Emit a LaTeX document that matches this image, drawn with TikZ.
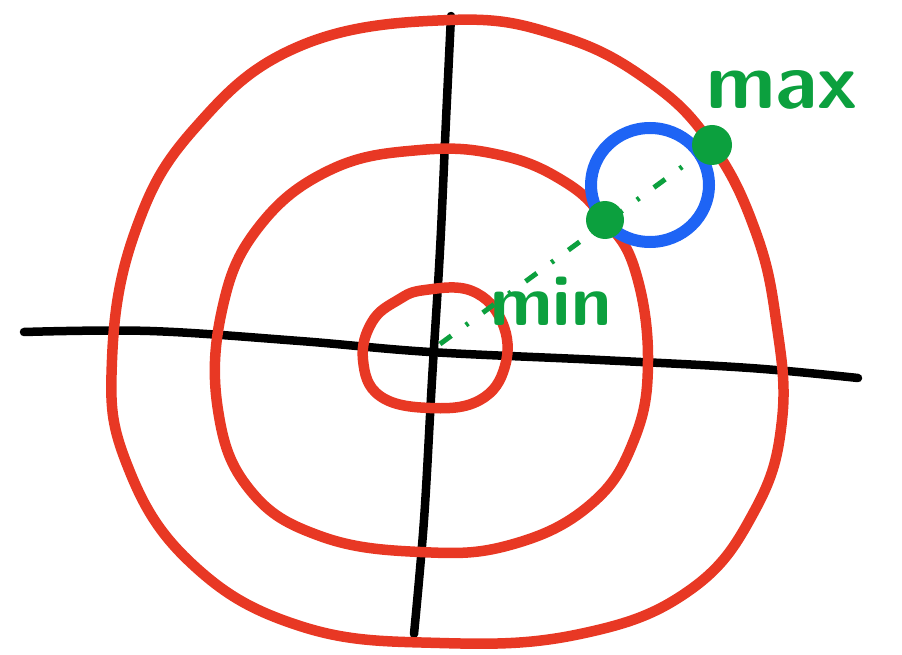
\documentclass[tikz,border=0pt]{standalone}
\usepackage{tikz}
\definecolor{sketchred}{RGB}{232,56,36}
\definecolor{sketchblue}{RGB}{30,100,245}
\definecolor{sketchgreen}{RGB}{12,160,62}
\tikzset{
  axis/.style={black, line width=8.5pt, line cap=round, line join=round},
  level/.style={sketchred, line width=10.5pt, line join=round},
  extreme/.style={circle, fill=sketchgreen, inner sep=0pt, minimum size=40pt},
  handtext/.style={sketchgreen, font=\fontsize{80}{80}\sffamily\bfseries, inner sep=0pt}
}

\begin{document}
\begin{tikzpicture}[x=1pt, y=-1pt]
  \useasboundingbox (0,0) rectangle (902,655);

  % Axes
  \draw[axis] plot[smooth, tension=0.6] coordinates {(24,332) (150,331) (300,341) (430,352) (600,360) (750,368) (858,378)};
  \draw[axis] plot[smooth, tension=0.6] coordinates {(451,16) (446,120) (440,250) (432,380) (424,520) (414,634)};
  \coordinate (o) at (440,344);

  % Level sets
  \draw[level] plot[smooth cycle, tension=0.7] coordinates {(450,20) (560,36) (650,82) (712,145) (755,230) (776,320) (782,420) (755,510) (690,590) (580,634) (440,643) (300,626) (190,562) (126,462) (112,360) (135,232) (195,128) (300,46)};
  \draw[level] plot[smooth cycle, tension=0.7] coordinates {(420,150) (500,155) (565,182) (605,220) (635,270) (648,360) (634,440) (590,505) (510,545) (420,552) (320,536) (250,490) (218,410) (222,310) (258,228) (330,170)};
  \draw[level] plot[smooth cycle, tension=0.7] coordinates {(425,290) (472,291) (502,322) (505,366) (480,400) (430,408) (380,396) (363,360) (372,322) (398,300)};

  % Constraint circle
  \draw[sketchblue, line width=12pt] (650,185) ellipse (59pt and 57pt);

  % Extreme points
  \node[extreme] (pmax) at (712,145) {};
  \node[extreme, minimum size=38pt] (pmin) at (605,220) {};
  \draw[sketchgreen, line width=5pt, dash pattern=on 14pt off 18pt on 3pt off 18pt] (o) -- (pmax.center);

  % Labels
  \node[handtext, anchor=south west] (maxlabel) at (706,110) {max};
  \node[handtext, anchor=south west, font=\fontsize{72}{72}\sffamily\bfseries] (minlabel) at (490,326) {min};
\end{tikzpicture}
\end{document}
